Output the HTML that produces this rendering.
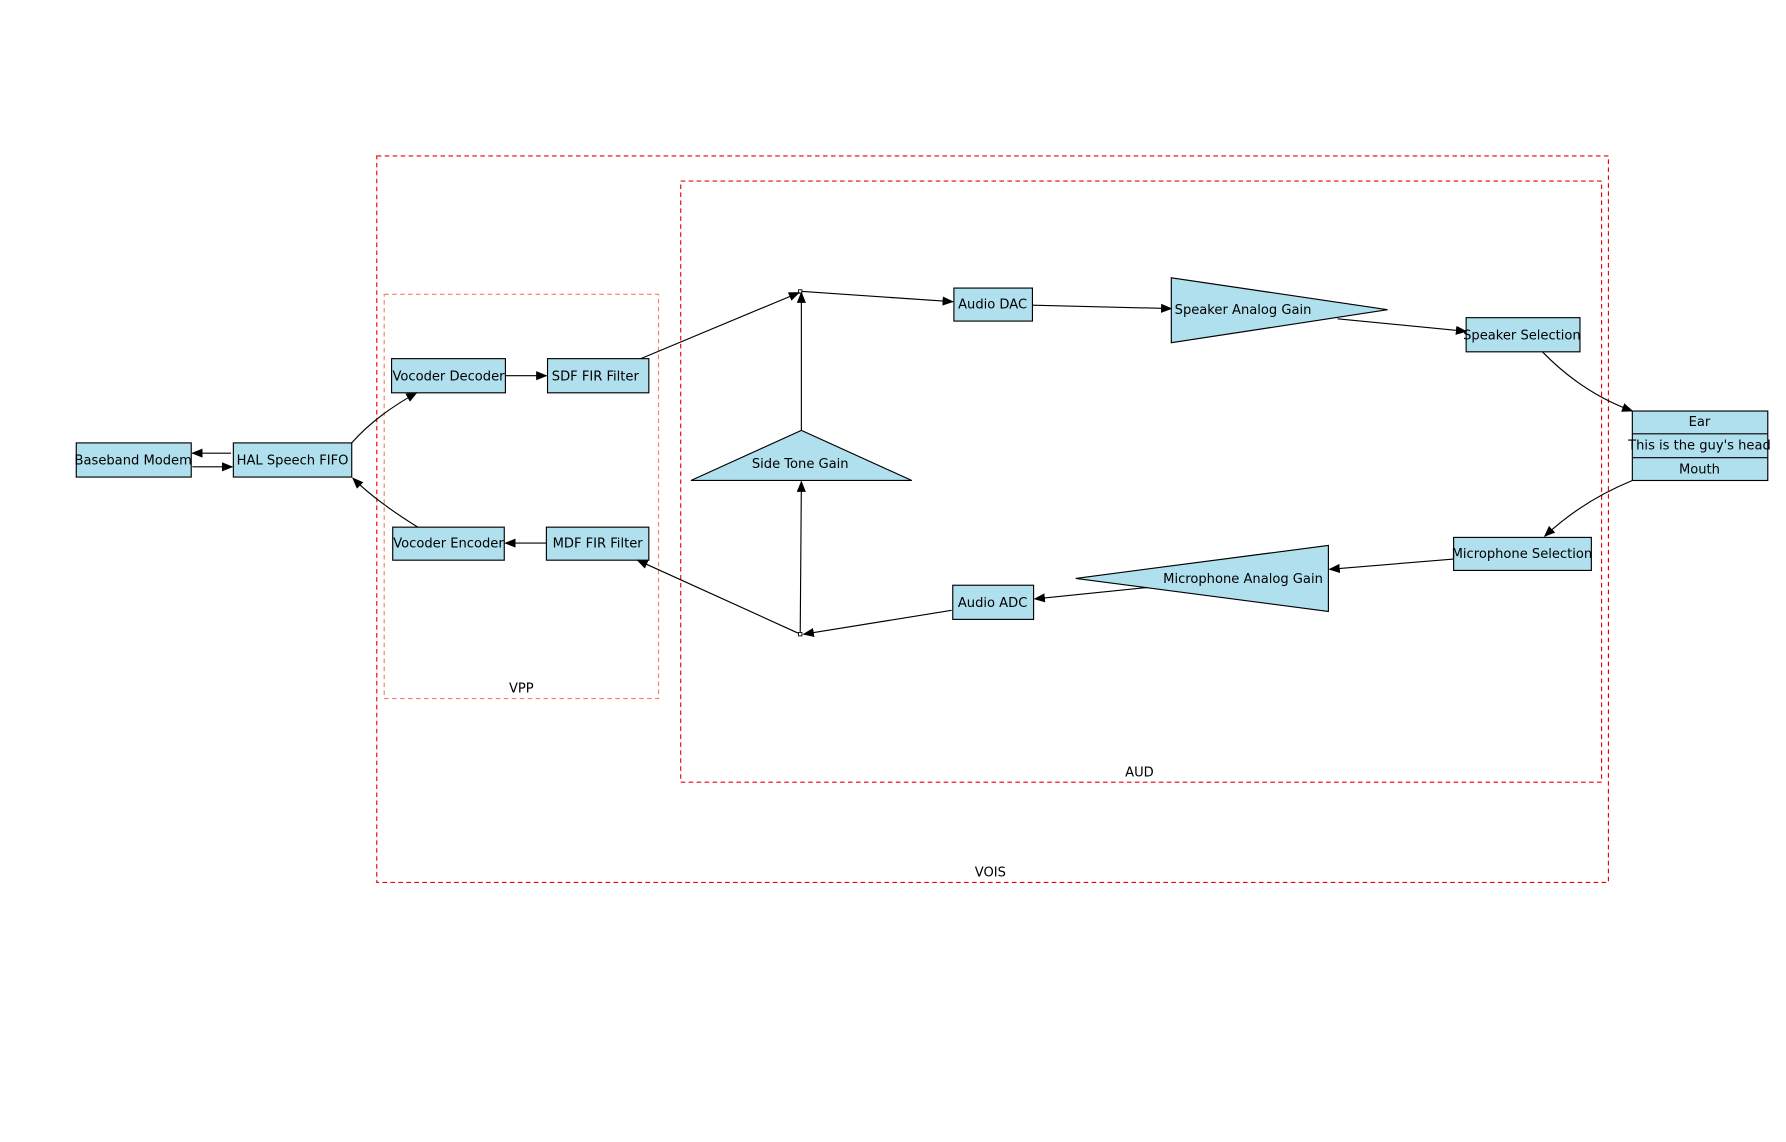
<!DOCTYPE html>
<html><head><meta charset="utf-8"><style>
html,body{margin:0;padding:0;background:#fff;}
svg{display:block;}
text{font-family:"DejaVu Sans","Liberation Sans",sans-serif;font-size:11.5px;fill:#000;}
</style></head><body>
<svg width="1786" height="1142" viewBox="0 0 1569 1003" preserveAspectRatio="none" xmlns="http://www.w3.org/2000/svg">
<defs>
<marker id="a" markerWidth="10" markerHeight="8" refX="9" refY="4" orient="auto" markerUnits="userSpaceOnUse">
<path d="M0,0 L10,4 L0,8 z" fill="#000"/>
</marker>
</defs>
<!-- containers -->
<rect x="331" y="137" width="1082" height="638" fill="none" stroke="#e00" stroke-dasharray="4,3"/>
<text x="870" y="770" text-anchor="middle">VOIS</text>
<rect x="598" y="159" width="809" height="528" fill="none" stroke="#e00" stroke-dasharray="4,3"/>
<text x="1001" y="682" text-anchor="middle">AUD</text>
<rect x="337.5" y="258.5" width="241" height="355" fill="none" stroke="#f08060" stroke-dasharray="4,3"/>
<text x="458" y="608" text-anchor="middle">VPP</text>

<g fill="#b0dfee" stroke="#000" stroke-width="1">
<rect x="67" y="389" width="101" height="30"/>
<rect x="205" y="389" width="104" height="30"/>
<rect x="344" y="315" width="100" height="30"/>
<rect x="481" y="315" width="89" height="30"/>
<rect x="345" y="463" width="98" height="29"/>
<rect x="480" y="463" width="90" height="29"/>
<rect x="838" y="253" width="69" height="29"/>
<rect x="837" y="514" width="71" height="30"/>
<rect x="1288" y="279" width="100" height="30"/>
<rect x="1277" y="472" width="121" height="29"/>
<rect x="1434" y="361" width="119" height="61"/>
<line x1="1434" y1="381" x2="1553" y2="381"/>
<line x1="1434" y1="402" x2="1553" y2="402"/>
<polygon points="1029,244 1029,301 1219,272"/>
<polygon points="1167,479 1167,537 945,508"/>
<polygon points="607,422 801,422 704,378"/>
</g>
<rect x="701.5" y="254.5" width="3" height="3" fill="#fff" stroke="#000" stroke-width="0.8"/>
<rect x="701.5" y="555.5" width="3" height="3" fill="#fff" stroke="#000" stroke-width="0.8"/>

<g fill="none" stroke="#000" stroke-width="1" marker-end="url(#a)">
<line x1="203" y1="398" x2="169" y2="398"/>
<line x1="169" y1="410" x2="204" y2="410"/>
<path d="M309,389 Q330,365 366,345"/>
<path d="M367,463 Q330,440 310,420"/>
<line x1="444" y1="330" x2="480" y2="330"/>
<line x1="480" y1="477" x2="444" y2="477"/>
<line x1="563" y1="315" x2="702" y2="257"/>
<line x1="705" y1="256" x2="837" y2="265"/>
<line x1="704" y1="378" x2="704" y2="257"/>
<line x1="703" y1="555" x2="704" y2="423"/>
<line x1="907" y1="268" x2="1029" y2="271"/>
<line x1="1175" y1="280" x2="1288" y2="291"/>
<path d="M1355,309 Q1390,345 1434,361"/>
<path d="M1434,422 Q1390,440 1357,471"/>
<line x1="1277" y1="491" x2="1168" y2="500"/>
<line x1="1008" y1="516" x2="909" y2="526"/>
<line x1="836" y1="536" x2="706" y2="557"/>
<line x1="701" y1="556" x2="560" y2="492"/>
</g>

<g text-anchor="middle">
<text x="117" y="408">Baseband Modem</text>
<text x="257" y="408">HAL Speech FIFO</text>
<text x="394" y="334">Vocoder Decoder</text>
<text x="523" y="334">SDF FIR Filter</text>
<text x="394" y="481">Vocoder Encoder</text>
<text x="525" y="481">MDF FIR Filter</text>
<text x="872" y="271">Audio DAC</text>
<text x="872" y="533">Audio ADC</text>
<text x="1337" y="298">Speaker Selection</text>
<text x="1337" y="490">Microphone Selection</text>
<text x="1493" y="374">Ear</text>
<text x="1493" y="395">This is the guy's head</text>
<text x="1493" y="416">Mouth</text>
<text x="1092" y="276">Speaker Analog Gain</text>
<text x="1092" y="512">Microphone Analog Gain</text>
<text x="703" y="411">Side Tone Gain</text>
</g>
</svg>
</body></html>
